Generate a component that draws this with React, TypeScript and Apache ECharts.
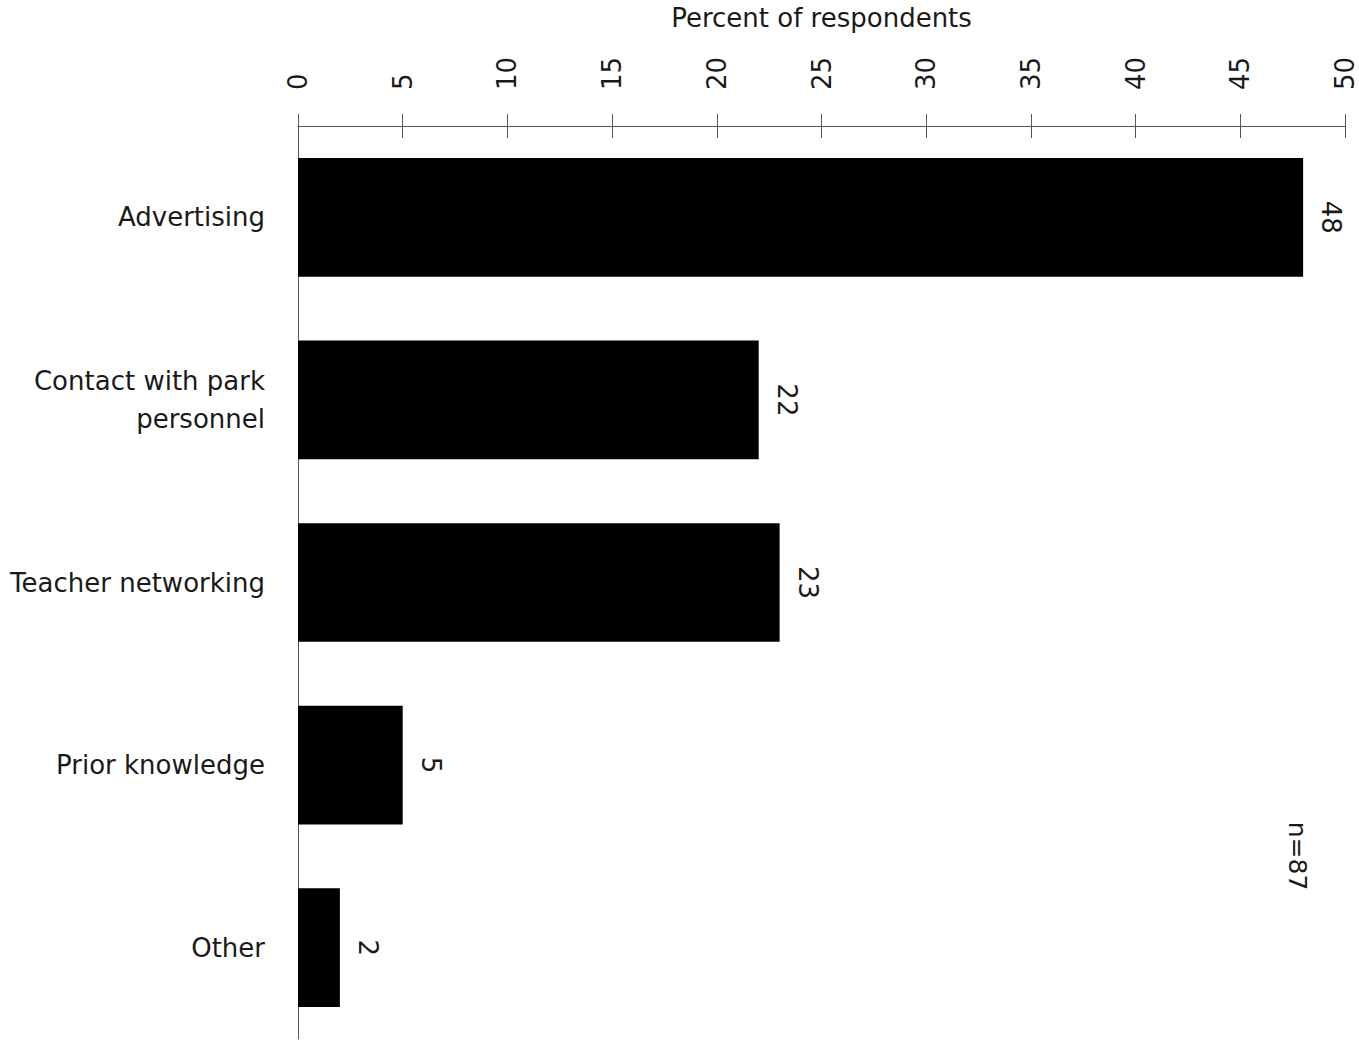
import React, { useEffect, useRef } from "react";
import * as echarts from "echarts";

// Survey results: how teachers learned about the park programme
const categories = [
  "Advertising",
  "Contact with park\npersonnel",
  "Teacher networking",
  "Prior knowledge",
  "Other",
];
const percentValues = [48, 22, 23, 5, 2];
const axisTitle = "Percent of respondents";
const sampleNote = "n=87";

const FONT = "DejaVu Sans";
const INK = "#1a1a1a";
const RULE = "#555555";

export default function App() {
  const ref = useRef<HTMLDivElement>(null);

  useEffect(() => {
    if (!ref.current) return;
    const chart = echarts.init(ref.current, null, { renderer: "svg" });

    const valueAxisBase = {
      type: "value" as const,
      position: "top" as const,
      min: 0,
      max: 50,
      interval: 5,
      splitLine: { show: false },
    };

    chart.setOption({
      animation: false,
      backgroundColor: "#ffffff",
      grid: { left: 298, right: 14, top: 122, bottom: 7, containLabel: false },
      xAxis: [
        {
          ...valueAxisBase,
          name: axisTitle,
          nameLocation: "middle",
          nameGap: 95,
          nameTextStyle: { fontFamily: FONT, fontSize: 26, color: INK },
          axisLine: { show: true, lineStyle: { color: RULE, width: 1 } },
          axisTick: { show: true, inside: false, length: 12, lineStyle: { color: RULE, width: 1 } },
          axisLabel: {
            show: true,
            rotate: -90,
            margin: 36,
            fontFamily: FONT,
            fontSize: 26,
            color: INK,
          },
        },
        {
          // downward half of the crossing tick marks
          ...valueAxisBase,
          axisLine: { show: false },
          axisTick: { show: true, inside: true, length: 12, lineStyle: { color: RULE, width: 1 } },
          axisLabel: { show: false },
        },
      ],
      yAxis: {
        type: "category",
        data: categories,
        inverse: true,
        axisLine: { show: true, lineStyle: { color: RULE, width: 1 } },
        axisTick: { show: false },
        axisLabel: {
          margin: 33,
          fontFamily: FONT,
          fontSize: 26,
          lineHeight: 38,
          color: INK,
          align: "right",
        },
      },
      series: [
        {
          type: "bar",
          xAxisIndex: 0,
          data: percentValues,
          barWidth: "65%",
          itemStyle: { color: "#000000" },
          label: {
            show: true,
            position: "right",
            distance: 28,
            rotate: -90,
            align: "center",
            verticalAlign: "middle",
            fontFamily: FONT,
            fontSize: 26,
            color: INK,
          },
        },
      ],
      graphic: [
        {
          type: "text",
          x: 1297,
          y: 856,
          rotation: -Math.PI / 2,
          style: {
            text: sampleNote,
            fontFamily: FONT,
            fontSize: 25,
            fill: INK,
            align: "center",
            verticalAlign: "middle",
          },
        },
      ],
    });

    return () => chart.dispose();
  }, []);

  return (
    <div
      ref={ref}
      style={{ position: "absolute", left: 0, top: 0, width: 1359, height: 1046 }}
    />
  );
}
